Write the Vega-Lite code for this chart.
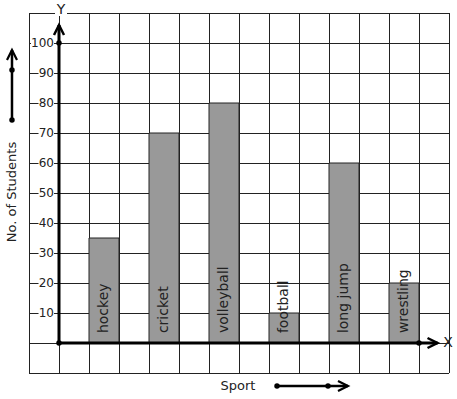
{
  "$schema": "https://vega.github.io/schema/vega-lite/v6.json",
  "width": 420,
  "height": 360,
  "autosize": "none",
  "padding": {"left": 29, "top": 13, "right": 8, "bottom": 26},
  "background": "white",
  "config": {
    "view": {"stroke": null},
    "font": "DejaVu Sans"
  },
  "datasets": {
    "sports": [
      {"sport": "hockey", "students": 35, "slot": 1.5},
      {"sport": "cricket", "students": 70, "slot": 3.5},
      {"sport": "volleyball", "students": 80, "slot": 5.5},
      {"sport": "football", "students": 10, "slot": 7.5},
      {"sport": "long jump", "students": 60, "slot": 9.5},
      {"sport": "wrestling", "students": 20, "slot": 11.5}
    ],
    "ticks": [
      {"v": 10}, {"v": 20}, {"v": 30}, {"v": 40}, {"v": 50},
      {"v": 60}, {"v": 70}, {"v": 80}, {"v": 90}, {"v": 100}
    ],
    "gx": [{"g": -1}, {"g": 0}, {"g": 1}, {"g": 2}, {"g": 3}, {"g": 4}, {"g": 5}, {"g": 6}, {"g": 7}, {"g": 8}, {"g": 9}, {"g": 10}, {"g": 11}, {"g": 12}, {"g": 13}],
    "gy": [{"g": -10}, {"g": 0}, {"g": 10}, {"g": 20}, {"g": 30}, {"g": 40}, {"g": 50}, {"g": 60}, {"g": 70}, {"g": 80}, {"g": 90}, {"g": 100}, {"g": 110}],
    "one": [{}]
  },
  "layer": [
    {
      "data": {"name": "gx"},
      "mark": {"type": "rule", "color": "#222222", "strokeWidth": 1, "xOffset": 0.5},
      "encoding": {
        "x": {"field": "g", "type": "quantitative", "scale": {"domain": [-1, 13], "nice": false, "zero": false, "padding": 0}, "axis": null},
        "y": {"datum": -10, "scale": {"domain": [-10, 110], "nice": false, "zero": false, "padding": 0}, "axis": null},
        "y2": {"datum": 110}
      }
    },
    {
      "data": {"name": "gy"},
      "mark": {"type": "rule", "color": "#222222", "strokeWidth": 1, "yOffset": 0.5},
      "encoding": {
        "y": {"field": "g", "type": "quantitative", "scale": {"domain": [-10, 110], "nice": false, "zero": false, "padding": 0}, "axis": null},
        "x": {"datum": -1, "scale": {"domain": [-1, 13], "nice": false, "zero": false, "padding": 0}, "axis": null},
        "x2": {"datum": 13}
      }
    },
    {
      "data": {"name": "sports"},
      "mark": {"type": "bar", "size": 30, "fill": "#999999", "stroke": "#222222", "strokeWidth": 1},
      "encoding": {
        "x": {"field": "slot", "type": "quantitative", "scale": {"domain": [-1, 13], "nice": false, "zero": false, "padding": 0}, "axis": null},
        "y": {"field": "students", "type": "quantitative", "scale": {"domain": [-10, 110], "nice": false, "zero": false, "padding": 0}, "axis": null}
      }
    },
    {
      "data": {"name": "sports"},
      "mark": {"type": "text", "angle": 270, "align": "left", "baseline": "middle", "fontSize": 14, "color": "#222222"},
      "encoding": {
        "x": {"field": "slot", "type": "quantitative", "scale": {"domain": [-1, 13], "nice": false, "zero": false, "padding": 0}, "axis": null},
        "y": {"datum": 3.3, "scale": {"domain": [-10, 110], "nice": false, "zero": false, "padding": 0}, "axis": null},
        "text": {"field": "sport"}
      }
    },
    {
      "data": {"name": "ticks"},
      "transform": [{"filter": "datum.v < 100"}],
      "mark": {"type": "bar", "size": 12, "fill": "white"},
      "encoding": {
        "x": {"datum": -0.683, "scale": {"domain": [-1, 13], "nice": false, "zero": false, "padding": 0}, "axis": null},
        "x2": {"datum": -0.1667},
        "y": {"field": "v", "type": "quantitative", "scale": {"domain": [-10, 110], "nice": false, "zero": false, "padding": 0}, "axis": null}
      }
    },
    {
      "data": {"name": "ticks"},
      "transform": [{"filter": "datum.v >= 100"}],
      "mark": {"type": "bar", "size": 12, "fill": "white"},
      "encoding": {
        "x": {"datum": -0.933, "scale": {"domain": [-1, 13], "nice": false, "zero": false, "padding": 0}, "axis": null},
        "x2": {"datum": -0.1667},
        "y": {"field": "v", "type": "quantitative", "scale": {"domain": [-10, 110], "nice": false, "zero": false, "padding": 0}, "axis": null}
      }
    },
    {
      "data": {"name": "ticks"},
      "mark": {"type": "text", "align": "right", "baseline": "middle", "fontSize": 12, "color": "#222222"},
      "encoding": {
        "x": {"datum": -0.1667, "scale": {"domain": [-1, 13], "nice": false, "zero": false, "padding": 0}, "axis": null},
        "y": {"field": "v", "type": "quantitative", "scale": {"domain": [-10, 110], "nice": false, "zero": false, "padding": 0}, "axis": null},
        "text": {"field": "v"}
      }
    },
    {
      "data": {"name": "one"},
      "mark": {"type": "bar", "size": 12, "fill": "white"},
      "encoding": {
        "x": {"datum": -0.133, "scale": {"domain": [-1, 13], "nice": false, "zero": false, "padding": 0}, "axis": null},
        "x2": {"datum": 0.267},
        "y": {"datum": 111, "scale": {"domain": [-10, 110], "nice": false, "zero": false, "padding": 0}, "axis": null}
      }
    },
    {
      "data": {"name": "one"},
      "mark": {"type": "text", "text": "Y", "align": "center", "baseline": "middle", "fontSize": 14, "color": "#222222"},
      "encoding": {
        "x": {"datum": 0.067, "scale": {"domain": [-1, 13], "nice": false, "zero": false, "padding": 0}, "axis": null},
        "y": {"datum": 111, "scale": {"domain": [-10, 110], "nice": false, "zero": false, "padding": 0}, "axis": null}
      }
    },
    {
      "data": {"name": "one"},
      "mark": {"type": "text", "text": "X", "align": "center", "baseline": "middle", "fontSize": 14, "color": "#222222"},
      "encoding": {
        "x": {"datum": 12.967, "scale": {"domain": [-1, 13], "nice": false, "zero": false, "padding": 0}, "axis": null},
        "y": {"datum": 0, "scale": {"domain": [-10, 110], "nice": false, "zero": false, "padding": 0}, "axis": null}
      }
    },
    {
      "data": {"name": "one"},
      "mark": {"type": "text", "text": "No. of Students", "angle": 270, "align": "center", "baseline": "middle", "fontSize": 13, "color": "#222222"},
      "encoding": {
        "x": {"datum": -1.567, "scale": {"domain": [-1, 13], "nice": false, "zero": false, "padding": 0}, "axis": null},
        "y": {"datum": 50.33, "scale": {"domain": [-10, 110], "nice": false, "zero": false, "padding": 0}, "axis": null}
      }
    },
    {
      "data": {"name": "one"},
      "mark": {"type": "text", "text": "Sport", "align": "center", "baseline": "middle", "fontSize": 13, "color": "#222222"},
      "encoding": {
        "x": {"datum": 5.967, "scale": {"domain": [-1, 13], "nice": false, "zero": false, "padding": 0}, "axis": null},
        "y": {"datum": -14.17, "scale": {"domain": [-10, 110], "nice": false, "zero": false, "padding": 0}, "axis": null}
      }
    },
    {
      "data": {"name": "one"},
      "mark": {"type": "rule", "color": "black", "strokeWidth": 3},
      "encoding": {
        "x": {"datum": 0, "scale": {"domain": [-1, 13], "nice": false, "zero": false, "padding": 0}, "axis": null},
        "y": {"datum": 0, "scale": {"domain": [-10, 110], "nice": false, "zero": false, "padding": 0}, "axis": null},
        "y2": {"datum": 106}
      }
    },
    {
      "data": {"name": "one"},
      "mark": {"type": "rule", "color": "black", "strokeWidth": 3},
      "encoding": {
        "x": {"datum": 0, "scale": {"domain": [-1, 13], "nice": false, "zero": false, "padding": 0}, "axis": null},
        "x2": {"datum": 12.617},
        "y": {"datum": 0, "scale": {"domain": [-10, 110], "nice": false, "zero": false, "padding": 0}, "axis": null}
      }
    },
    {
      "data": {"name": "one"},
      "mark": {"type": "rule", "color": "black", "strokeWidth": 2.5},
      "encoding": {
        "x": {"datum": -1.567, "scale": {"domain": [-1, 13], "nice": false, "zero": false, "padding": 0}, "axis": null},
        "y": {"datum": 74.33, "scale": {"domain": [-10, 110], "nice": false, "zero": false, "padding": 0}, "axis": null},
        "y2": {"datum": 97.67}
      }
    },
    {
      "data": {"name": "one"},
      "mark": {"type": "rule", "color": "black", "strokeWidth": 2.5},
      "encoding": {
        "x": {"datum": 7.267, "scale": {"domain": [-1, 13], "nice": false, "zero": false, "padding": 0}, "axis": null},
        "x2": {"datum": 9.633},
        "y": {"datum": -14.33, "scale": {"domain": [-10, 110], "nice": false, "zero": false, "padding": 0}, "axis": null}
      }
    },
    {
      "data": {"name": "one"},
      "mark": {"type": "point", "shape": "M-1,2L0,0L1,2", "size": 100, "filled": false, "stroke": "black", "strokeWidth": 2.5, "opacity": 1},
      "encoding": {
        "x": {"datum": 0, "scale": {"domain": [-1, 13], "nice": false, "zero": false, "padding": 0}, "axis": null},
        "y": {"datum": 106, "scale": {"domain": [-10, 110], "nice": false, "zero": false, "padding": 0}, "axis": null}
      }
    },
    {
      "data": {"name": "one"},
      "mark": {"type": "point", "shape": "M-1,2L0,0L1,2", "size": 100, "angle": 90, "filled": false, "stroke": "black", "strokeWidth": 2.5, "opacity": 1},
      "encoding": {
        "x": {"datum": 12.617, "scale": {"domain": [-1, 13], "nice": false, "zero": false, "padding": 0}, "axis": null},
        "y": {"datum": 0, "scale": {"domain": [-10, 110], "nice": false, "zero": false, "padding": 0}, "axis": null}
      }
    },
    {
      "data": {"name": "one"},
      "mark": {"type": "point", "shape": "M-1,2L0,0L1,2", "size": 100, "filled": false, "stroke": "black", "strokeWidth": 2.2, "opacity": 1},
      "encoding": {
        "x": {"datum": -1.567, "scale": {"domain": [-1, 13], "nice": false, "zero": false, "padding": 0}, "axis": null},
        "y": {"datum": 97.67, "scale": {"domain": [-10, 110], "nice": false, "zero": false, "padding": 0}, "axis": null}
      }
    },
    {
      "data": {"name": "one"},
      "mark": {"type": "point", "shape": "M-1,2L0,0L1,2", "size": 100, "angle": 90, "filled": false, "stroke": "black", "strokeWidth": 2.2, "opacity": 1},
      "encoding": {
        "x": {"datum": 9.633, "scale": {"domain": [-1, 13], "nice": false, "zero": false, "padding": 0}, "axis": null},
        "y": {"datum": -14.33, "scale": {"domain": [-10, 110], "nice": false, "zero": false, "padding": 0}, "axis": null}
      }
    },
    {
      "data": {"name": "one"},
      "mark": {"type": "point", "filled": true, "size": 30, "color": "black", "opacity": 1},
      "encoding": {
        "x": {"datum": 0, "scale": {"domain": [-1, 13], "nice": false, "zero": false, "padding": 0}, "axis": null},
        "y": {"datum": 100, "scale": {"domain": [-10, 110], "nice": false, "zero": false, "padding": 0}, "axis": null}
      }
    },
    {
      "data": {"name": "one"},
      "mark": {"type": "point", "filled": true, "size": 30, "color": "black", "opacity": 1},
      "encoding": {
        "x": {"datum": 0, "scale": {"domain": [-1, 13], "nice": false, "zero": false, "padding": 0}, "axis": null},
        "y": {"datum": 0, "scale": {"domain": [-10, 110], "nice": false, "zero": false, "padding": 0}, "axis": null}
      }
    },
    {
      "data": {"name": "one"},
      "mark": {"type": "point", "filled": true, "size": 30, "color": "black", "opacity": 1},
      "encoding": {
        "x": {"datum": 12, "scale": {"domain": [-1, 13], "nice": false, "zero": false, "padding": 0}, "axis": null},
        "y": {"datum": 0, "scale": {"domain": [-10, 110], "nice": false, "zero": false, "padding": 0}, "axis": null}
      }
    },
    {
      "data": {"name": "one"},
      "mark": {"type": "point", "filled": true, "size": 30, "color": "black", "opacity": 1},
      "encoding": {
        "x": {"datum": -1.567, "scale": {"domain": [-1, 13], "nice": false, "zero": false, "padding": 0}, "axis": null},
        "y": {"datum": 91, "scale": {"domain": [-10, 110], "nice": false, "zero": false, "padding": 0}, "axis": null}
      }
    },
    {
      "data": {"name": "one"},
      "mark": {"type": "point", "filled": true, "size": 30, "color": "black", "opacity": 1},
      "encoding": {
        "x": {"datum": -1.567, "scale": {"domain": [-1, 13], "nice": false, "zero": false, "padding": 0}, "axis": null},
        "y": {"datum": 74.33, "scale": {"domain": [-10, 110], "nice": false, "zero": false, "padding": 0}, "axis": null}
      }
    },
    {
      "data": {"name": "one"},
      "mark": {"type": "point", "filled": true, "size": 30, "color": "black", "opacity": 1},
      "encoding": {
        "x": {"datum": 7.267, "scale": {"domain": [-1, 13], "nice": false, "zero": false, "padding": 0}, "axis": null},
        "y": {"datum": -14.33, "scale": {"domain": [-10, 110], "nice": false, "zero": false, "padding": 0}, "axis": null}
      }
    },
    {
      "data": {"name": "one"},
      "mark": {"type": "point", "filled": true, "size": 30, "color": "black", "opacity": 1},
      "encoding": {
        "x": {"datum": 8.967, "scale": {"domain": [-1, 13], "nice": false, "zero": false, "padding": 0}, "axis": null},
        "y": {"datum": -14.33, "scale": {"domain": [-10, 110], "nice": false, "zero": false, "padding": 0}, "axis": null}
      }
    }
  ]
}
